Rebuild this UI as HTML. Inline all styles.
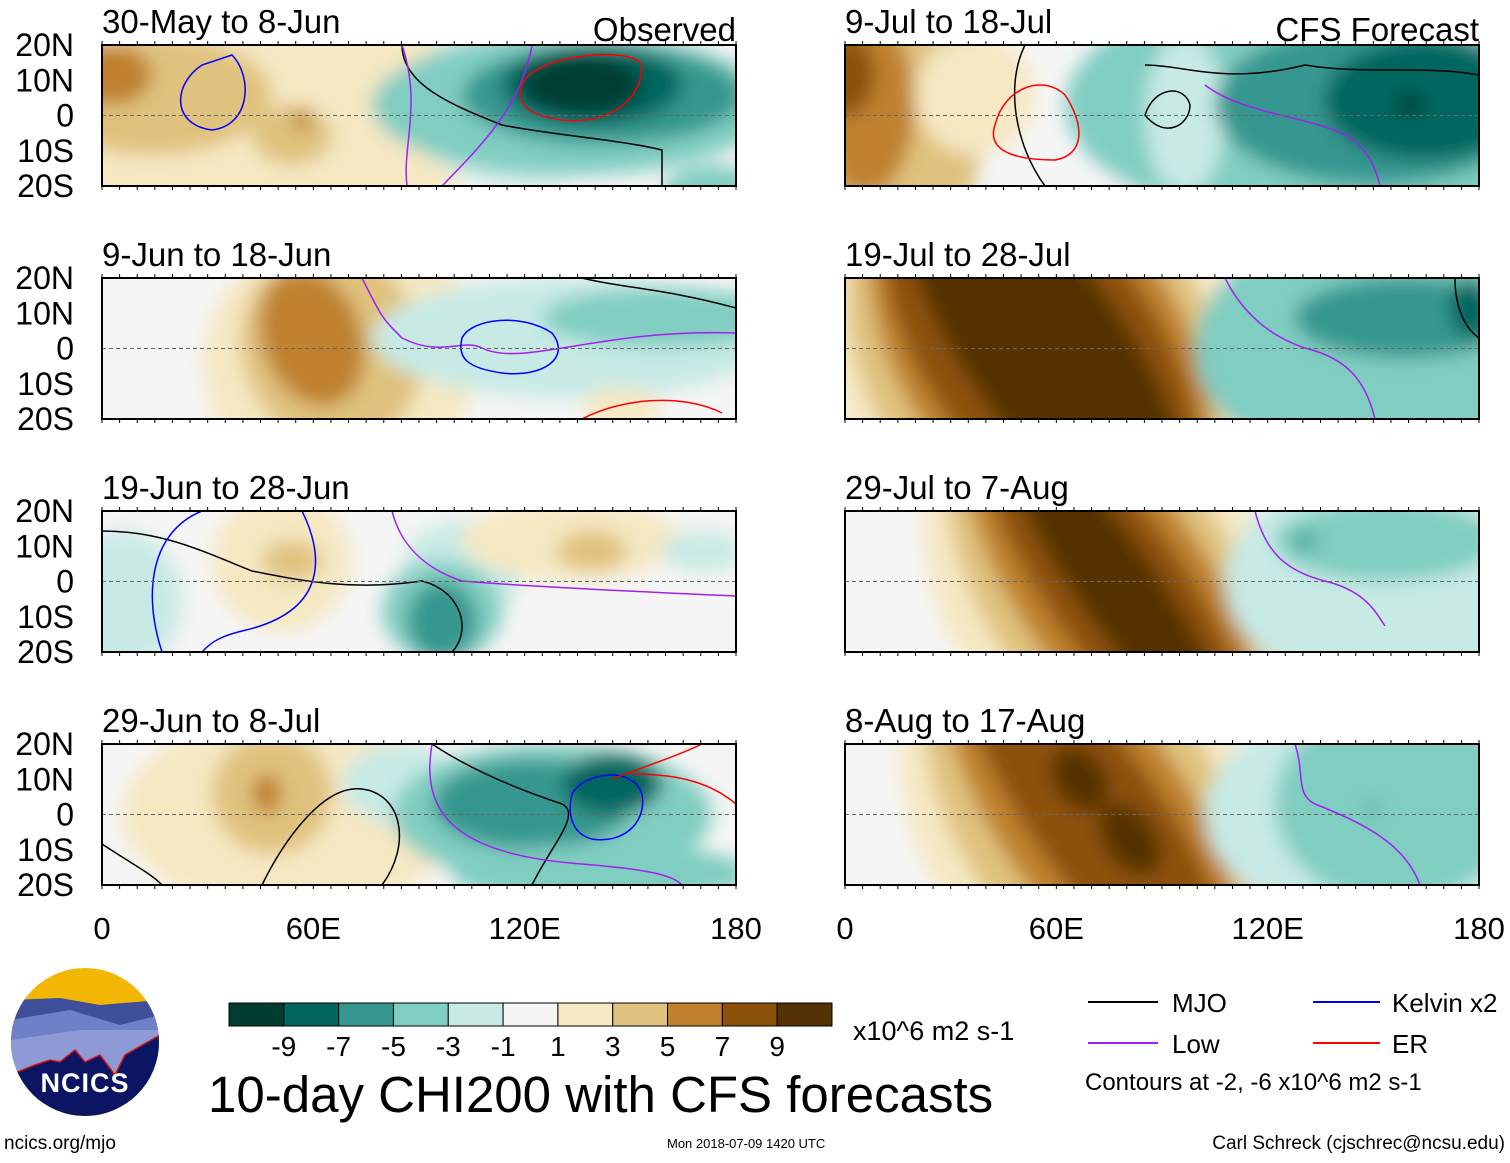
<!DOCTYPE html>
<html><head><meta charset="utf-8">
<style>
html,body{margin:0;padding:0;background:#fff;}
body{width:1510px;height:1158px;overflow:hidden;font-family:"Liberation Sans",sans-serif;}
svg text{font-family:"Liberation Sans",sans-serif;}
</style></head>
<body>
<svg id="fig" width="1510" height="1158" viewBox="0 0 1510 1158" xmlns="http://www.w3.org/2000/svg">
<defs>
<filter id="blur" x="-50%" y="-50%" width="200%" height="200%"><feGaussianBlur stdDeviation="9"/></filter>
</defs>
<g id="panels"></g>
<g id="colorbar"></g>

<g>
<clipPath id="logoclip"><circle cx="85" cy="1042" r="74"/></clipPath>
<g clip-path="url(#logoclip)">
<rect x="10" y="968" width="150" height="150" fill="#f2b705"/>
<path d="M10 1000 L60 998 L100 1005 L160 1000 L160 1040 L10 1050Z" fill="#3f4f9a"/>
<path d="M10 1020 L70 1010 L120 1025 L160 1015 L160 1060 L10 1060Z" fill="#6f7fc8"/>
<path d="M10 1040 L80 1030 L160 1030 L160 1070 L10 1075Z" fill="#8d9ad6"/>
<path d="M10 1075 L35 1065 L50 1060 L60 1062 L75 1050 L85 1062 L100 1055 L115 1075 L125 1055 L160 1035 L160 1120 L10 1120Z" fill="#0c1464" stroke="#d01010" stroke-width="1.5"/>
</g>
<text x="85" y="1092" text-anchor="middle" font-size="27" font-weight="bold" fill="#fff" letter-spacing="1">NCICS</text>
</g>
<text x="4" y="1149" font-size="19">ncics.org/mjo</text>
<text x="208" y="1112" font-size="51">10-day CHI200 with CFS forecasts</text>
<text x="853" y="1040" font-size="27">x10^6 m2 s-1</text>
<text x="667" y="1148" font-size="13">Mon 2018-07-09 1420 UTC</text>
<text x="1505" y="1149" text-anchor="end" font-size="19">Carl Schreck (cjschrec@ncsu.edu)</text>

<g>
<line x1="1088" y1="1002" x2="1158" y2="1002" stroke="#000" stroke-width="2"/>
<text x="1172" y="1012" font-size="26">MJO</text>
<line x1="1088" y1="1043" x2="1158" y2="1043" stroke="#a020f0" stroke-width="2"/>
<text x="1172" y="1053" font-size="26">Low</text>
<line x1="1313" y1="1002" x2="1380" y2="1002" stroke="#0000ff" stroke-width="2"/>
<text x="1392" y="1012" font-size="26">Kelvin x2</text>
<line x1="1313" y1="1043" x2="1380" y2="1043" stroke="#ff0000" stroke-width="2"/>
<text x="1392" y="1053" font-size="26">ER</text>
<text x="1085" y="1090" font-size="24">Contours at -2, -6 x10^6 m2 s-1</text>
</g>
</svg>
<script>
const NS='http://www.w3.org/2000/svg';
const cbColors=['#003c30','#01665e','#35978f','#80cdc1','#c7eae5','#f5f5f5','#f6e8c3','#dfc27d','#bf812d','#8c510a','#543005'];
const cbLabels=['-9','-7','-5','-3','-1','1','3','5','7','9'];
const latTicks=['20N','10N','0','10S','20S'];
const lonTicks=['0','60E','120E','180'];
const titles=['30-May to 8-Jun','9-Jun to 18-Jun','19-Jun to 28-Jun','29-Jun to 8-Jul','9-Jul to 18-Jul','19-Jul to 28-Jul','29-Jul to 7-Aug','8-Aug to 17-Aug'];
// blobs: [level index, cx, cy, rx, ry, rotation] in panel-local px (634x141)
const fields=[
 [[6,150,70,260,110,0],[7,50,50,120,60,0],[8,10,30,40,30,0],[7,190,90,40,30,0],[8,200,75,10,10,0],[4,420,60,120,80,0],[3,470,60,200,70,0],[2,500,50,140,50,0],[1,490,40,90,40,0],[0,480,40,60,30,0],[3,610,150,50,30,0]],
 [[6,240,80,140,130,-20],[7,230,70,90,100,-20],[8,210,60,50,70,-20],[4,470,60,200,60,0],[3,560,40,120,30,0],[6,520,130,40,20,0]],
 [[4,20,90,60,70,0],[6,180,50,70,70,0],[7,190,50,30,20,0],[4,360,60,60,50,0],[3,340,100,60,50,0],[2,340,110,35,40,0],[6,470,30,110,40,0],[7,490,40,35,20,0],[4,600,40,40,20,0]],
 [[6,190,70,170,100,0],[7,170,50,60,60,0],[8,165,50,15,20,0],[4,300,40,60,40,0],[3,450,70,160,70,0],[2,430,60,100,45,0],[1,510,40,50,30,0],[3,500,130,150,30,0]],
 [[7,50,60,90,160,0],[8,20,60,50,90,0],[9,0,30,30,40,0],[6,130,50,60,60,0],[3,480,60,260,120,0],[4,340,70,40,80,0],[2,530,60,160,80,0],[1,580,55,100,60,0],[0,565,60,15,10,0]],
 [[6,190,70,200,230,-35],[7,190,70,170,220,-35],[8,195,70,140,220,-35],[9,195,70,115,220,-35],[10,200,70,80,220,-35],[3,520,70,170,120,0],[2,560,40,110,40,0],[1,625,30,20,30,0]],
 [[6,260,75,160,220,-35],[7,265,75,125,220,-35],[8,268,75,95,220,-35],[9,270,75,68,220,-35],[10,272,75,40,190,-35],[4,540,70,160,110,0],[3,540,30,110,40,0],[2,460,30,12,8,0]],
 [[6,240,70,165,220,-35],[7,245,70,130,220,-35],[8,248,70,95,220,-35],[9,250,70,65,220,-35],[10,235,35,25,35,-35],[10,285,95,25,40,-35],[4,530,70,170,110,0],[3,550,60,120,100,0],[2,527,65,6,6,0]]
];
// contours: [color, path] in panel-local coords
const contours=[
 [['#000','M300 0 C300 40 350 60 400 80 C450 90 520 95 560 105 L560 141'],['#a020f0','M300 0 C320 60 300 100 305 141'],['#a020f0','M340 141 C380 100 420 60 430 0'],['#00f','M100 20 C70 40 70 80 110 85 C150 80 150 30 130 10 Z'],['#f00','M420 40 C430 10 530 0 540 20 C540 60 500 80 460 75 C420 70 415 55 420 40Z']],
 [['#000','M480 0 C520 10 560 10 634 30'],['#a020f0','M260 0 C280 40 280 40 300 60 C340 80 360 60 380 70 C420 90 500 50 634 55'],['#00f','M360 60 C370 40 420 35 450 55 C470 80 440 100 400 95 C365 90 355 80 360 60Z'],['#f00','M480 141 C520 120 580 115 620 135']],
 [['#000','M0 20 C60 20 100 40 150 60 C200 70 250 80 320 70 C360 80 370 120 350 141'],['#00f','M100 0 C50 20 40 80 60 141'],['#00f','M200 0 C220 40 230 100 140 120 C120 125 110 130 100 141'],['#a020f0','M290 0 C300 40 330 60 360 70 C420 75 520 80 634 85']],
 [['#000','M0 100 C30 120 50 130 60 141'],['#000','M160 141 C180 100 220 40 260 45 C300 50 310 100 280 141'],['#000','M330 0 C360 20 400 40 460 60 C480 70 450 100 430 141'],['#a020f0','M330 0 C320 60 340 110 480 120 C540 125 570 130 580 141'],['#00f','M470 50 C480 30 530 20 540 50 C545 80 520 100 490 95 C470 90 465 70 470 50Z'],['#f00','M510 35 C550 20 580 10 600 0'],['#f00','M530 30 C580 30 610 40 634 60']],
 [['#000','M180 0 C160 40 170 100 200 141'],['#f00','M150 80 C160 40 200 30 220 50 C240 80 240 110 210 115 C180 115 140 110 150 80Z'],['#000','M300 70 C310 40 340 40 345 60 C345 80 320 95 300 70Z'],['#000','M300 20 C340 20 380 40 460 20 C520 30 580 20 634 30'],['#a020f0','M360 40 C400 70 460 70 500 90 C520 100 530 120 535 141']],
 [['#a020f0','M380 0 C400 40 430 60 460 70 C500 80 520 100 530 141'],['#000','M610 0 C610 30 620 50 634 60']],
 [['#a020f0','M410 0 C420 40 440 60 480 70 C520 80 530 100 540 115']],
 [['#a020f0','M450 0 C460 30 450 50 470 60 C520 80 560 100 575 141']]
];
const panels=[[102,45],[102,278],[102,511],[102,744],[845,45],[845,278],[845,511],[845,744]];
const W=634,H=141;
const root=document.getElementById('panels');
function mk(tag,attrs,parent){const e=document.createElementNS(NS,tag);for(const k in attrs)e.setAttribute(k,attrs[k]);parent.appendChild(e);return e;}
panels.forEach((p,i)=>{
 const [x0,y0]=p;
 const g=mk('g',{transform:`translate(${x0},${y0})`},root);
 
 
 const cp=mk('clipPath',{id:'cp'+i},g);mk('rect',{x:0,y:0,width:W,height:H},cp);
 const inner=mk('g',{'clip-path':`url(#cp${i})`},g);
 mk('rect',{x:0,y:0,width:W,height:H,fill:cbColors[5]},inner);
 const bl=mk('g',{filter:'url(#blur)'},inner);
 fields[i].forEach(b=>{
  const el=mk('ellipse',{cx:b[1],cy:b[2],rx:b[3],ry:b[4],fill:cbColors[b[0]],transform:`rotate(${b[5]} ${b[1]} ${b[2]})`},bl);
  
  
 });
 contours[i].forEach(c=>{
  const pe=mk('path',{d:c[1],fill:'none',stroke:c[0],'stroke-width':1.5},inner);
  
  
 });
 const eq=mk('line',{x1:0,y1:H/2,x2:W,y2:H/2,stroke:'#666','stroke-dasharray':'4,3','stroke-width':1},g);
 
 
 const fr=mk('rect',{x:0,y:0,width:W,height:H,fill:'none',stroke:'#000','stroke-width':2},g);
 
 
 for(let k=0;k<=36;k++){const tx=k*W/36;mk('line',{x1:tx,y1:0,x2:tx,y2:-4,stroke:'#000'},g);mk('line',{x1:tx,y1:H,x2:tx,y2:H+4,stroke:'#000'},g);}
 const t=mk('text',{x:0,y:-12,'font-size':33},g);t.textContent=titles[i];
 
 
 if(i===0||i===4){const h=mk('text',{x:W,y:-4,'text-anchor':'end','font-size':33},g);h.textContent=i===0?'Observed':'CFS Forecast';
  
  }
 if(i<4){latTicks.forEach((lt,k)=>{const tl=mk('text',{x:-28,y:k*H/4+11,'text-anchor':'end','font-size':32},g);tl.textContent=lt;
  
  });}
 if(i===3||i===7){lonTicks.forEach((lt,k)=>{const tl=mk('text',{x:k*W/3,y:H+54,'text-anchor':'middle','font-size':31},g);tl.textContent=lt;
  
  });}
});
const cb=document.getElementById('colorbar');
const cbx=229,cby=1003,cbw=603,cbh=23,bw=cbw/cbColors.length;
cbColors.forEach((c,k)=>{const r=mk('rect',{x:cbx+k*bw,y:cby,width:bw,height:cbh,fill:c,stroke:'#000','stroke-width':1},cb);
 
 });
cbLabels.forEach((l,k)=>{const t=mk('text',{x:cbx+(k+1)*bw,y:1056,'text-anchor':'middle','font-size':28},cb);t.textContent=l;
 
 });
</script>
</body></html>
